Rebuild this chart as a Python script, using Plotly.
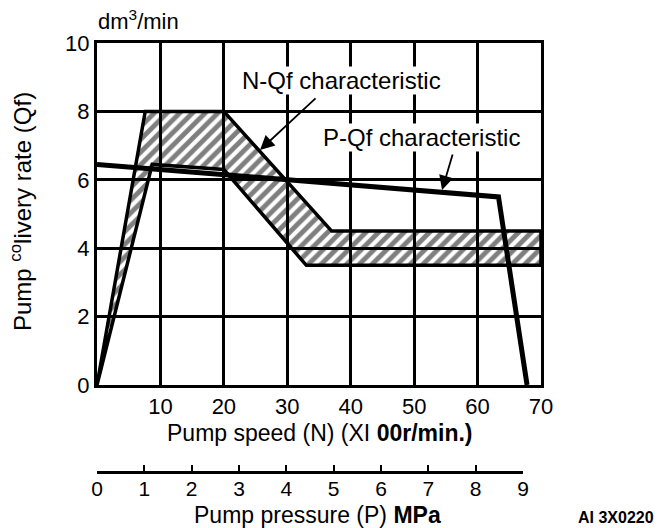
import plotly.graph_objects as go

# N-Qf characteristic band (pump speed x100 r/min vs delivery rate dm3/min)
n_upper_x = [0, 7.6, 20, 37, 70]
n_upper_y = [0, 8.0, 8.0, 4.5, 4.5]
n_lower_x = [0, 8.7, 20, 33, 70]
n_lower_y = [0, 6.45, 6.3, 3.5, 3.5]

# P-Qf characteristic line
p_x = [0, 63.3, 67.8]
p_y = [6.45, 5.5, 0]

x_ticks = [10, 20, 30, 40, 50, 60, 70]
y_ticks = [0, 2, 4, 6, 8, 10]
pressure_ticks = [0, 1, 2, 3, 4, 5, 6, 7, 8, 9]

FONT = "Liberation Sans, Arial"

W, H = 660, 528
L, R, T, B = 97, 119, 43, 57
PW, PH = W - L - R, H - T - B


def px(x):
    return (x - L) / PW


def py(y):
    return (H - B - y) / PH


band_x = n_upper_x + n_lower_x[::-1]
band_y = n_upper_y + n_lower_y[::-1]

fig = go.Figure()
fig.add_trace(go.Scatter(
    x=band_x, y=band_y, mode="lines", fill="toself",
    fillcolor="rgba(0,0,0,0)",
    fillpattern=dict(shape="/", size=9, solidity=0.55, fgcolor="black",
                     bgcolor="rgba(0,0,0,0)"),
    line=dict(color="black", width=3.5), hoverinfo="skip", showlegend=False,
))
fig.add_trace(go.Scatter(
    x=p_x, y=p_y, mode="lines", line=dict(color="black", width=5),
    hoverinfo="skip", showlegend=False,
))
# carrier for the pressure scale (own hidden y axis)
fig.add_trace(go.Scatter(x=[0, 9], y=[None, None], xaxis="x2", yaxis="y2",
                         mode="markers", showlegend=False, hoverinfo="skip"))

fig.update_layout(
    width=W, height=H,
    margin=dict(l=L, r=R, t=T, b=B),
    paper_bgcolor="white", plot_bgcolor="rgba(0,0,0,0)",
    font=dict(family=FONT, size=22, color="black"),
    xaxis=dict(range=[0, 70], tickvals=x_ticks, showgrid=True,
               gridcolor="black", gridwidth=2.5, showline=True, mirror=True,
               linecolor="black", linewidth=3, zeroline=False, ticks="",
               tickfont=dict(size=22), anchor="y"),
    yaxis=dict(range=[0, 10], tickvals=y_ticks, domain=[py(385), 1],
               showgrid=True, gridcolor="black", gridwidth=2.5,
               showline=True, mirror=True, linecolor="black", linewidth=3,
               zeroline=False, ticks="", tickfont=dict(size=22)),
    xaxis2=dict(range=[0, 9], domain=[0, px(523)],
                anchor="y2", side="bottom",
                tickvals=pressure_ticks, showgrid=False, showline=True,
                linecolor="black", linewidth=3, ticks="inside", ticklen=6,
                tickwidth=2, tickcolor="black", zeroline=False,
                ticklabelstandoff=-3, tickfont=dict(size=21)),
    yaxis2=dict(domain=[0, 0.01], visible=False, anchor="x2"),
)

ann = [
    dict(text="dm<sup>3</sup>/min", x=97, y=20, anchor="left"),
    dict(text="Pump speed (N) (XI <b>00r/min.)</b>", x=320, y=433, size=23),
    dict(text="Pump pressure (P) <b>MPa</b>", x=317, y=515, size=23),
    dict(text="<b>AI 3X0220</b>", x=616, y=517, size=16),
    dict(text="N-Qf characteristic", x=341, y=80, size=24, bg="white"),
    dict(text="P-Qf characteristic", x=421, y=137, size=24, bg="white"),
]
for a in ann:
    fig.add_annotation(text=a["text"], x=px(a["x"]), y=py(a["y"]),
                       xref="paper", yref="paper",
                       xanchor=a.get("anchor", "center"),
                       yanchor="middle", showarrow=False,
                       bgcolor=a.get("bg", "rgba(0,0,0,0)"), borderpad=0,
                       font=dict(size=a.get("size", 22)))

fig.add_annotation(
    text="Pump <sup>co</sup>livery rate (Qf)",
    textangle=-90, x=px(4), y=py(212), xref="paper", yref="paper",
    xanchor="left", yanchor="middle",
    showarrow=False, font=dict(size=24))

# arrows from the labels to the curves
fig.add_annotation(x=25.7, y=6.87, xref="x", yref="y", text="", showarrow=True,
                   ax=57, ay=-53, arrowhead=2, arrowsize=1.6, arrowwidth=1.8,
                   arrowcolor="black")
fig.add_annotation(x=54.4, y=5.70, xref="x", yref="y", text="", showarrow=True,
                   ax=11, ay=-37, arrowhead=2, arrowsize=1.6, arrowwidth=1.8,
                   arrowcolor="black")

fig.write_html("out.html")
